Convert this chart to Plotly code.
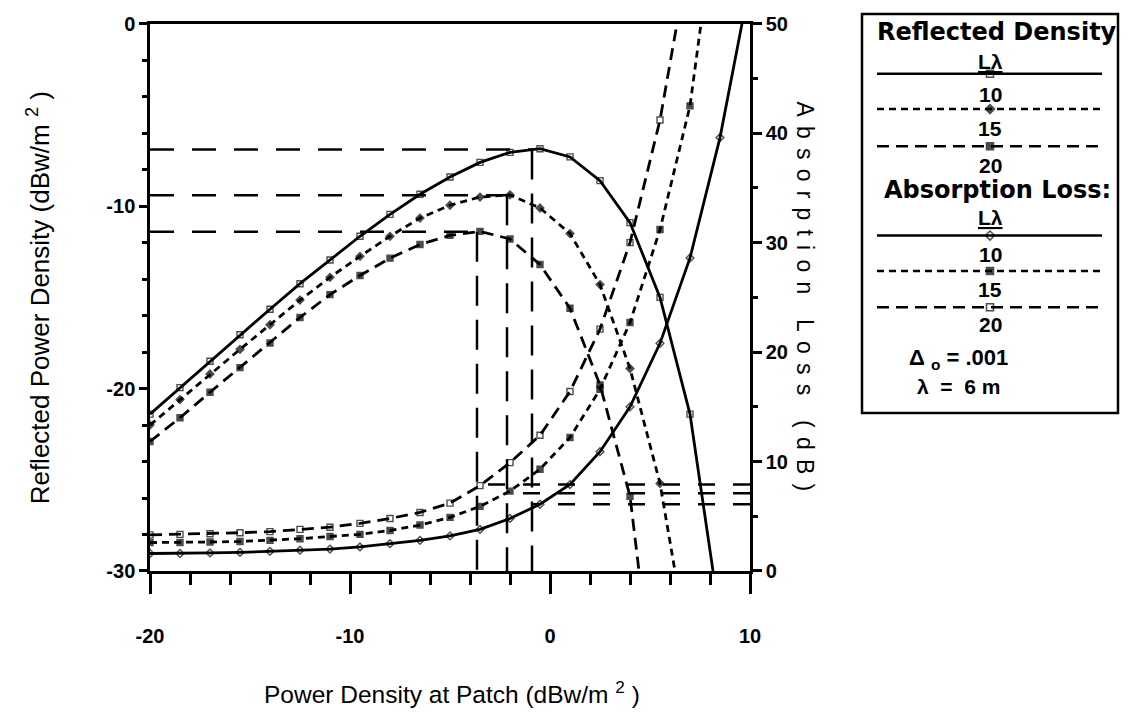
import plotly.graph_objects as go

# ---------------- data ----------------
# incident power density grid (dBW/m^2), one marker every 1.5 dB
power_grid = [-20, -18.5, -17, -15.5, -14, -12.5, -11, -9.5, -8, -6.5, -5,
              -3.5, -2, -0.5, 1, 2.5, 4, 5.5, 7, 8.5]

# reflected power density (dBW/m^2) for L/lambda = 10, 15, 20
refl_10 = [-21.4, -19.95, -18.5, -17.05, -15.65, -14.25, -12.95, -11.65, -10.45,
           -9.35, -8.4, -7.6, -7.05, -6.85, -7.3, -8.6, -10.9, -15.0, -21.4]
refl_15 = [-22.0, -20.6, -19.2, -17.85, -16.5, -15.15, -13.9, -12.75, -11.65,
           -10.65, -9.95, -9.5, -9.38, -10.1, -11.5, -14.3, -18.9, -25.2]
refl_20 = [-22.9, -21.6, -20.2, -18.85, -17.5, -16.1, -14.85, -13.8, -12.85,
           -12.1, -11.6, -11.38, -11.8, -13.2, -15.6, -19.8, -25.9]
# where each reflected curve leaves the bottom of the chart
refl_exit = {"10": (8.15, -30), "15": (6.25, -30), "20": (4.45, -30)}

# absorption loss (dB) for L/lambda = 10, 15, 20
abs_10 = [1.6, 1.6, 1.65, 1.7, 1.8, 1.9, 2.0, 2.2, 2.5, 2.8, 3.2, 3.8, 4.8,
          6.1, 7.9, 10.9, 15.0, 20.8, 28.6, 39.6]
abs_15 = [2.6, 2.6, 2.65, 2.7, 2.8, 2.95, 3.15, 3.35, 3.7, 4.2, 4.9, 5.9, 7.3,
          9.3, 12.2, 16.6, 22.7, 31.2, 42.5]
abs_20 = [3.3, 3.35, 3.4, 3.5, 3.6, 3.8, 4.0, 4.35, 4.8, 5.35, 6.2, 7.8, 9.9,
          12.4, 16.4, 22.1, 30.0, 41.2]
# where each absorption curve leaves the top of the chart
abs_exit = {"10": (9.6, 50), "15": (7.55, 50), "20": (6.35, 50)}

# optimum operating points (peak reflected density) and loss there
peak_power = [-0.9, -2.15, -3.65]
peak_reflected = [-6.9, -9.4, -11.4]
peak_loss = [6.1, 7.1, 7.9]

x_ticks = [-20, -10, 0, 10]
left_ticks = [-30, -20, -10, 0]
right_ticks = [0, 10, 20, 30, 40, 50]

# ---------------- layout geometry (pixels) ----------------
W, H = 1131, 727
ML, MR, MT, MB = 150, 13, 0, 156
PW, PH = W - ML - MR, H - MT - MB
PLOT_L, PLOT_R, PLOT_T, PLOT_B = 150, 750, 13, 571
BOX_L, BOX_R, BOX_T, BOX_B = 862, 1118, 3, 410

FONT = "Liberation Sans"
KEY_FONT = "DejaVu Sans"
BLACK = "#000000"

LONG_DASH = "12px,7px"
SHORT_DASH = "7px,5px"
GUIDE_H_DASH = "24px,18px"
GUIDE_V_DASH = "30px,14px"
LOSS_DASH = "17px,18px"


def px_to_paper_x(px):
    return (px - ML) / PW


def px_to_paper_y(py):
    return (H - MB - py) / PH


def lx(px):
    return (px - BOX_L) / (BOX_R - BOX_L)


def ly(py):
    return (BOX_B - py) / (BOX_B - BOX_T)


fig = go.Figure()

# ---- dashed guide lines to the optimum points ----
for xp, yp, loss in zip(peak_power, peak_reflected, peak_loss):
    fig.add_trace(go.Scatter(x=[-20, xp], y=[yp, yp], mode="lines",
                             line=dict(color=BLACK, width=2.5, dash=GUIDE_H_DASH),
                             xaxis="x", yaxis="y", hoverinfo="skip"))
    fig.add_trace(go.Scatter(x=[xp, xp], y=[yp, -30], mode="lines",
                             line=dict(color=BLACK, width=2.5, dash=GUIDE_V_DASH),
                             xaxis="x", yaxis="y", hoverinfo="skip"))
    fig.add_trace(go.Scatter(x=[10, xp], y=[loss, loss], mode="lines",
                             line=dict(color=BLACK, width=2.5, dash=LOSS_DASH),
                             xaxis="x", yaxis="y2", hoverinfo="skip"))


def add_curve(values, exit_pt, dash, symbol, axis):
    xs = power_grid[:len(values)] + [exit_pt[0]]
    ys = values + [exit_pt[1]]
    sizes = [6] * len(values) + [0]
    fig.add_trace(go.Scatter(
        x=xs, y=ys, mode="lines+markers",
        line=dict(color=BLACK, width=2.8, dash=dash),
        marker=dict(symbol=symbol, size=sizes, color=BLACK,
                    line=dict(color=BLACK, width=1.4)),
        xaxis="x", yaxis=axis, hoverinfo="skip"))


# reflected power density curves (left axis)
add_curve(refl_10, refl_exit["10"], "solid", "square-open", "y")
add_curve(refl_15, refl_exit["15"], SHORT_DASH, "diamond", "y")
add_curve(refl_20, refl_exit["20"], LONG_DASH, "square", "y")
# absorption loss curves (right axis)
add_curve(abs_10, abs_exit["10"], "solid", "diamond-open", "y2")
add_curve(abs_15, abs_exit["15"], SHORT_DASH, "square", "y2")
add_curve(abs_20, abs_exit["20"], LONG_DASH, "square-open", "y2")

# ---------------- key panel ----------------
key_rows = [
    ("solid", "square-open", 64, "10", 85),
    (SHORT_DASH, "diamond", 100, "15", 120),
    (LONG_DASH, "square", 138, "20", 158),
    ("solid", "diamond-open", 229, "10", 248),
    (SHORT_DASH, "square", 265, "15", 284),
    (LONG_DASH, "square-open", 302, "20", 320),
]
KEY_X0, KEY_X1, KEY_XC = 877, 1102, 990
annotations = []
for dash, symbol, y_line, label, y_label in key_rows:
    fig.add_trace(go.Scatter(
        x=[lx(KEY_X0), lx(KEY_XC), lx(KEY_X1)], y=[ly(y_line)] * 3,
        mode="lines+markers",
        line=dict(color=BLACK, width=2.5, dash=dash),
        marker=dict(symbol=symbol, size=[0, 7, 0], color=BLACK,
                    line=dict(color=BLACK, width=1.5)),
        xaxis="x3", yaxis="y3", hoverinfo="skip"))
    annotations.append(dict(x=lx(KEY_XC), y=ly(y_label), xref="x3", yref="y3",
                            text=label, showarrow=False,
                            font=dict(family=FONT, size=21, color=BLACK, weight="bold"),
                            xanchor="center", yanchor="middle"))

key_text = [
    ("Reflected Density", 997, 21, 24, KEY_FONT),
    ("<u>Lλ</u>", 990, 51, 21, FONT),
    ("Absorption Loss:", 997, 183, 24, KEY_FONT),
    ("<u>Lλ</u>", 990, 211, 21, FONT),
    ("Δ <sub>o</sub> = .001", 958, 355, 22, FONT),
    ("λ  =  6 m", 958, 383, 21, FONT),
]
for txt, xp, yp, size, family in key_text:
    annotations.append(dict(x=lx(xp), y=ly(yp), xref="x3", yref="y3", text=txt,
                            showarrow=False,
                            font=dict(family=family, size=size, color=BLACK, weight="bold"),
                            xanchor="center", yanchor="middle"))

# axis titles (the right-hand title is set with wide letter spacing)
THIN = "\u2009\u2009"
right_title = THIN.join(list("Absorption Loss (dB)"))
annotations += [
    dict(x=px_to_paper_x(38), y=px_to_paper_y(293), xref="paper", yref="paper",
         text="Reflected Power Density (dBw/m <sup>2</sup> )", textangle=-90,
         showarrow=False, font=dict(family=FONT, size=26, color=BLACK),
         xanchor="center", yanchor="middle"),
    dict(x=px_to_paper_x(805), y=px_to_paper_y(291), xref="paper", yref="paper",
         text=right_title, textangle=90,
         showarrow=False, font=dict(family=FONT, size=23, color=BLACK),
         xanchor="center", yanchor="middle"),
    dict(x=px_to_paper_x(452), y=px_to_paper_y(695), xref="paper", yref="paper",
         text="Power Density at Patch (dBw/m <sup>2</sup> )",
         showarrow=False, font=dict(family=FONT, size=24.5, color=BLACK),
         xanchor="center", yanchor="middle"),
]

tick_font = dict(family=FONT, size=20, color=BLACK, weight="bold")
axis_common = dict(showgrid=False, zeroline=False, showline=True, linecolor=BLACK,
                   linewidth=2.5, ticks="outside", tickwidth=2.5,
                   tickcolor=BLACK, tickfont=tick_font, fixedrange=True,
                   ticklabeloverflow="allow")

main_x_domain = [0, px_to_paper_x(PLOT_R)]
main_y_domain = [0, px_to_paper_y(PLOT_T)]

fig.update_layout(
    width=W, height=H,
    margin=dict(l=ML, r=MR, t=MT, b=MB),
    paper_bgcolor="white", plot_bgcolor="white",
    showlegend=False,
    xaxis=dict(domain=main_x_domain, range=[-20, 10], anchor="y", mirror=True,
               tickmode="array", tickvals=x_ticks, ticktext=[str(v) for v in x_ticks],
               ticklen=20, ticklabelstandoff=25,
               minor=dict(tickmode="linear", tick0=0, dtick=2, ticks="outside",
                          ticklen=11, tickwidth=2.5, tickcolor=BLACK),
               **axis_common),
    yaxis=dict(domain=main_y_domain, range=[-30, 0], anchor="x",
               tickmode="array", tickvals=left_ticks, ticktext=[str(v) for v in left_ticks],
               ticklen=8,
               minor=dict(tickmode="linear", tick0=0, dtick=2, ticks="outside",
                          ticklen=5, tickwidth=2.5, tickcolor=BLACK),
               **axis_common),
    yaxis2=dict(domain=main_y_domain, range=[0, 50], anchor="x", overlaying="y",
                side="right",
                tickmode="array", tickvals=right_ticks, ticktext=[str(v) for v in right_ticks],
                ticklen=9, ticklabelstandoff=0,
                minor=dict(tickmode="linear", tick0=0, dtick=5, ticks="outside",
                           ticklen=5, tickwidth=2.5, tickcolor=BLACK),
                **axis_common),
    xaxis3=dict(domain=[px_to_paper_x(BOX_L), px_to_paper_x(BOX_R)], range=[0, 1],
                anchor="y3", visible=False, fixedrange=True),
    yaxis3=dict(domain=[px_to_paper_y(BOX_B), px_to_paper_y(BOX_T)], range=[0, 1],
                anchor="x3", visible=False, fixedrange=True),
    shapes=[dict(type="rect", xref="x3 domain", yref="y3 domain", x0=0, x1=1, y0=0, y1=1,
                 line=dict(color=BLACK, width=2.5), fillcolor="rgba(0,0,0,0)")],
    annotations=annotations,
)

fig.write_html("out.html")
